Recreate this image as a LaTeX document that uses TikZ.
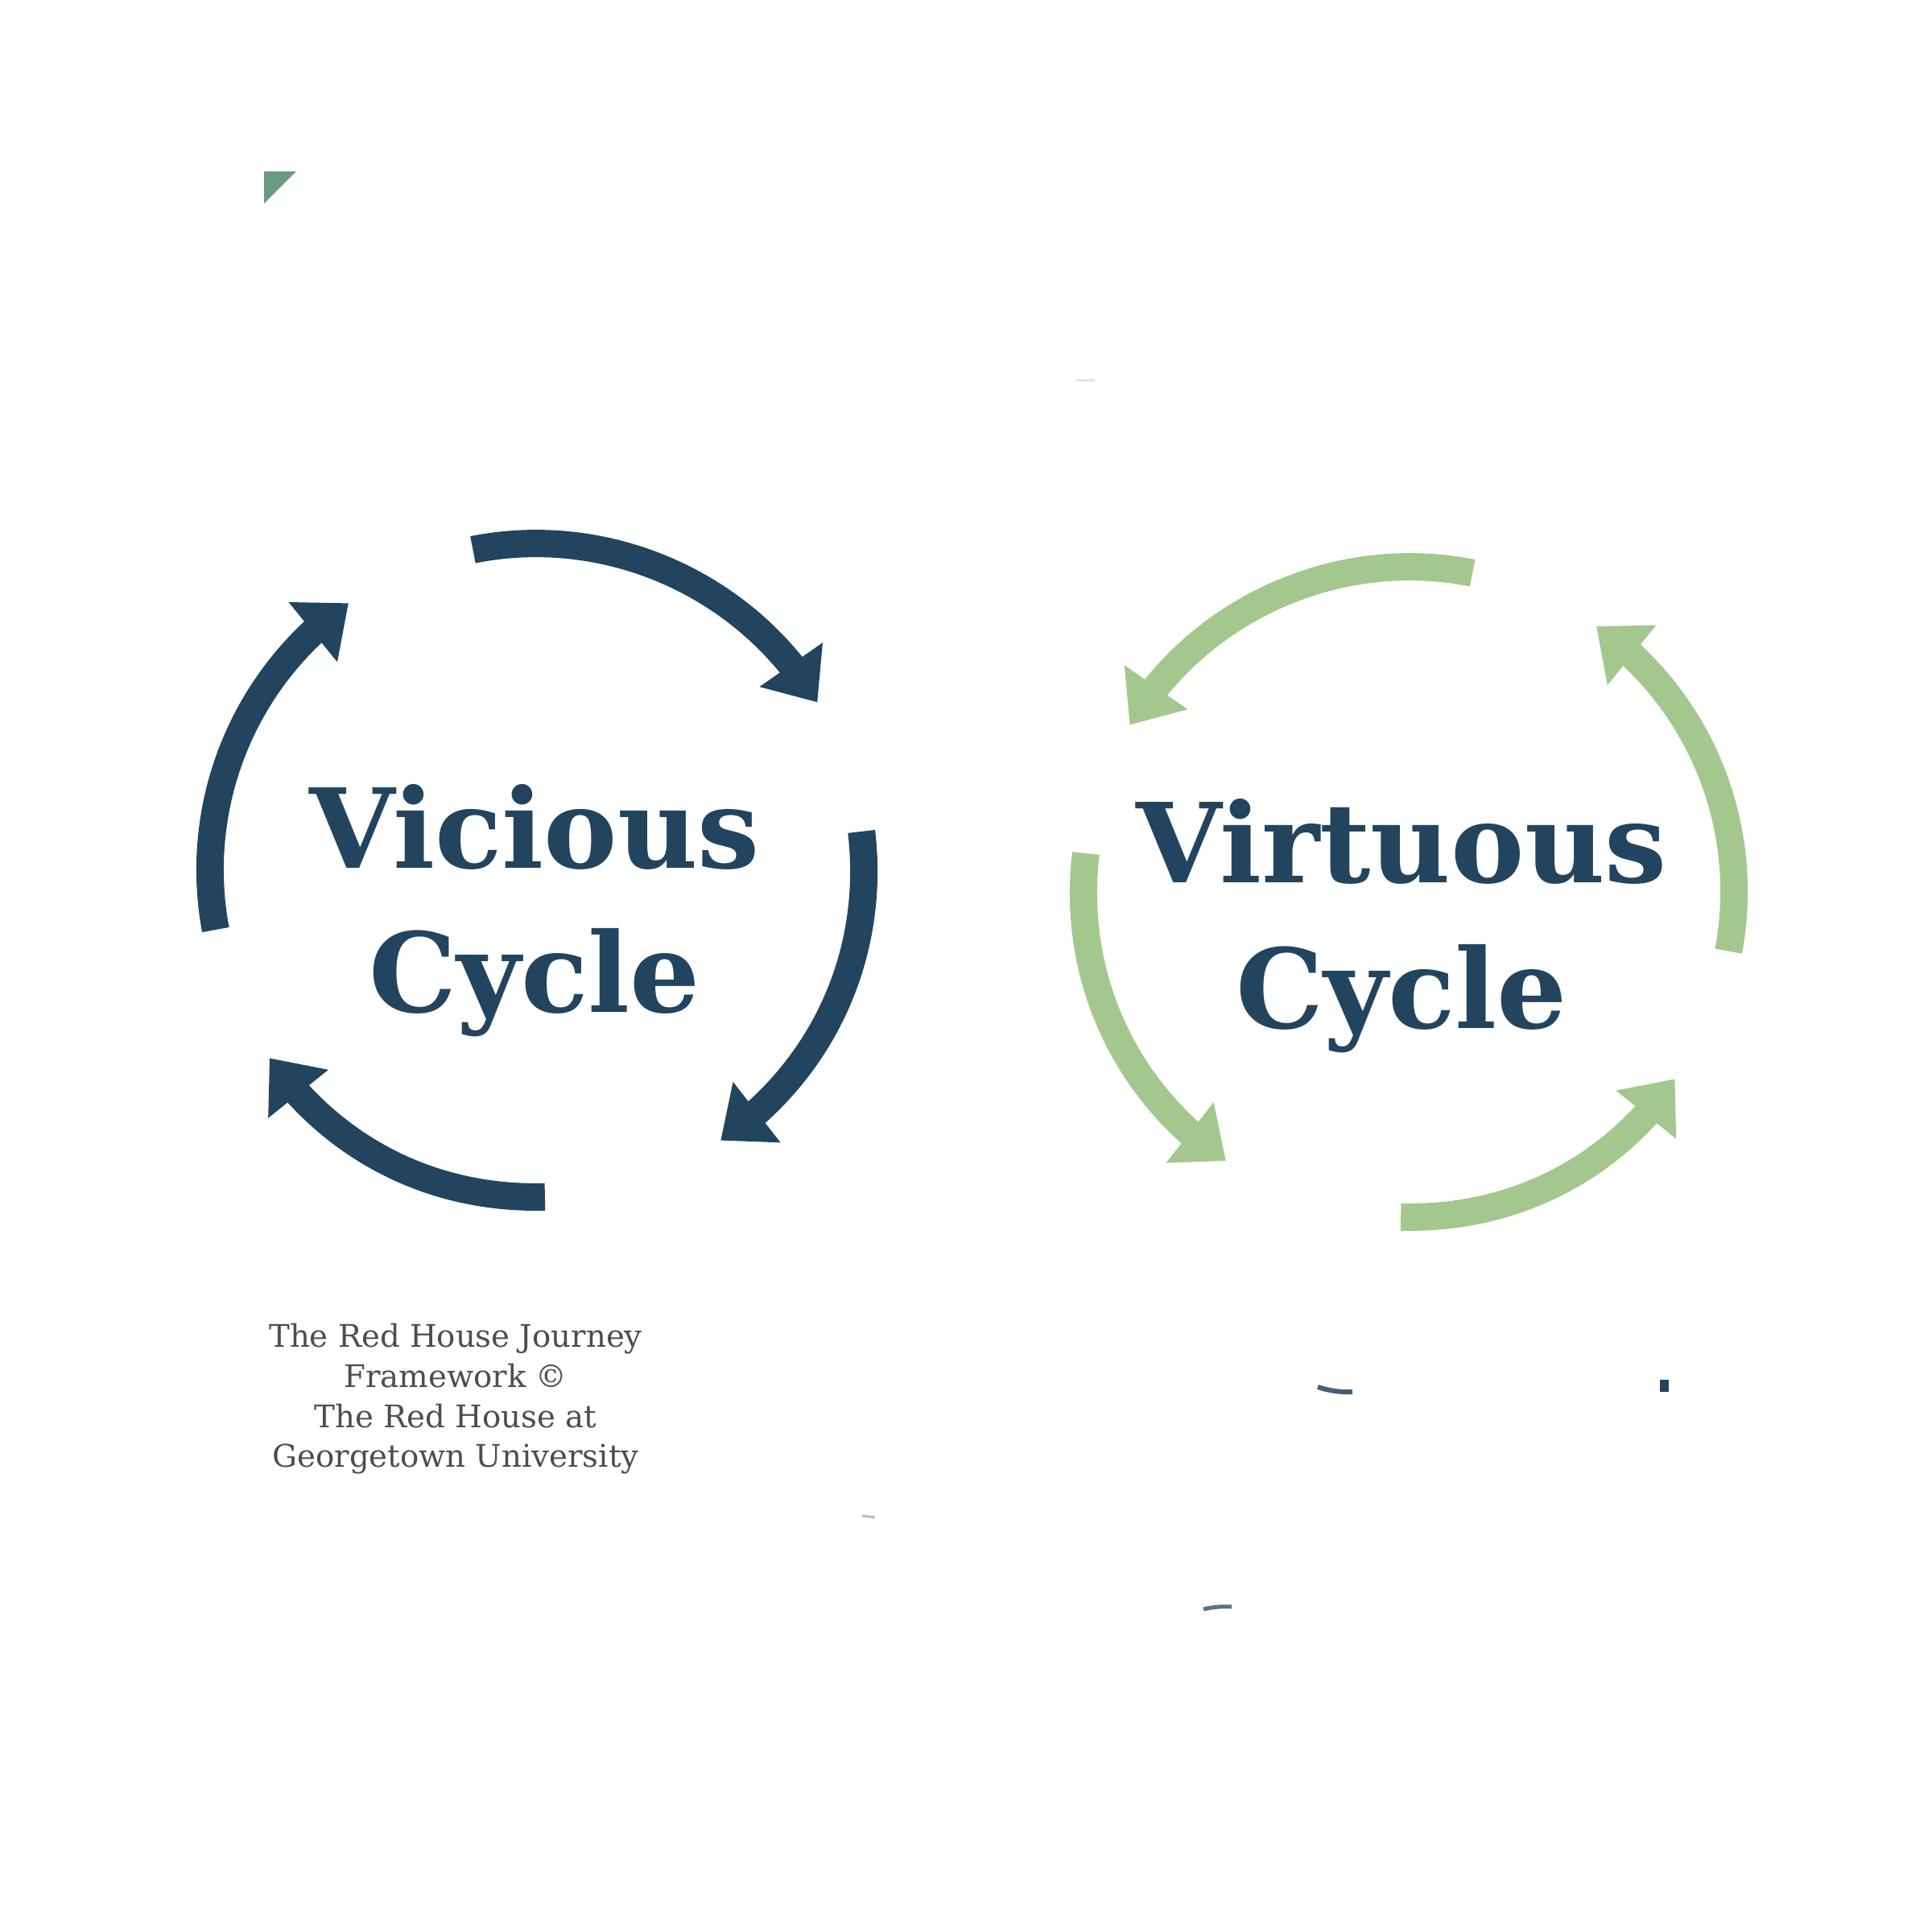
\documentclass[tikz,border=0pt]{standalone}
\usepackage{fontspec}
\setmainfont{DejaVu Serif}
\usetikzlibrary{arrows.meta,bending}
\definecolor{vblue}{HTML}{22445F}
\definecolor{vgreen}{HTML}{A4C78E}
\definecolor{cgray}{HTML}{4D4D4D}
\definecolor{tgreen}{HTML}{6A9A7F}
\begin{document}
\begin{tikzpicture}
[font=\bfseries\fontsize{39}{47}\selectfont, looseness=0.93]
\tikzstyle{vic}=[draw=vblue, line width=0.34cm, -{Triangle[width=0.92cm, length=0.57cm]}]
\tikzstyle{vir}=[draw=vgreen, line width=0.34cm, -{Triangle[width=0.92cm, length=0.57cm]}]
\tikzstyle{title}=[text=vblue, anchor=base, inner sep=0pt]
\tikzstyle{credit}=[text=cgray, font=\fontsize{11}{14.2}\selectfont, align=center, anchor=base, inner sep=0pt]
\useasboundingbox (0,0) rectangle (24,24);
\fill[white] (0,0) rectangle (24,24);

% vicious cycle, clockwise
\coordinate (VC) at (6.67,13.19);
\coordinate (V1a) at ([shift={(101.3:4.06)}]VC);	\coordinate (V1b) at ([shift={(30.9:4.06)}]VC);
\coordinate (V2a) at ([shift={(6.8:4.06)}]VC);		\coordinate (V2b) at ([shift={(-55.8:4.06)}]VC);
\coordinate (V3a) at ([shift={(-88.6:4.06)}]VC);	\coordinate (V3b) at ([shift={(-144.9:4.06)}]VC);
\coordinate (V4a) at ([shift={(190.5:4.06)}]VC);	\coordinate (V4b) at ([shift={(125.2:4.06)}]VC);
\draw[vic] (V1a) to[bend left=35.2] (V1b);
\draw[vic] (V2a) to[bend left=31.3] (V2b);
\draw[vic] (V3a) to[bend left=28.2] (V3b);
\draw[vic] (V4a) to[bend left=32.7] (V4b);
\node[title] (Vw1) at (6.64,13.21) {Vicious};
\node[title] (Vw2) at (6.64,11.42) {Cycle};

% virtuous cycle, counterclockwise
\coordinate (GC) at (17.50,12.92);
\coordinate (G1a) at ([shift={(78.7:4.04)}]GC);		\coordinate (G1b) at ([shift={(149.1:4.04)}]GC);
\coordinate (G2a) at ([shift={(173.2:4.04)}]GC);	\coordinate (G2b) at ([shift={(235.8:4.04)}]GC);
\coordinate (G3a) at ([shift={(268.6:4.04)}]GC);	\coordinate (G3b) at ([shift={(324.9:4.04)}]GC);
\coordinate (G4a) at ([shift={(349.5:4.04)}]GC);	\coordinate (G4b) at ([shift={(54.8:4.04)}]GC);
\draw[vir] (G1a) to[bend right=35.2] (G1b);
\draw[vir] (G2a) to[bend right=31.3] (G2b);
\draw[vir] (G3a) to[bend right=28.2] (G3b);
\draw[vir] (G4a) to[bend right=32.7] (G4b);
\node[title] (Gw1) at (17.41,13.03) {Virtuous};
\node[title] (Gw2) at (17.41,11.22) {Cycle};

\node[credit] (Cr) at (5.66,5.77) {The Red House Journey\\Framework ©\\The Red House at\\Georgetown University};

% stray marks
\fill[tgreen] (3.28,21.87) -- (3.68,21.87) -- (3.28,21.47) -- cycle;
\draw[vblue!15, line width=0.03cm] (13.37,19.27) -- (13.60,19.27);
\draw[vblue!85, line width=0.06cm] (16.37,6.77) to[bend right=10] (16.80,6.71);
\fill[vblue] (20.62,6.86) rectangle (20.73,6.71);
\draw[vblue!35, line width=0.03cm] (10.71,5.17) -- (10.87,5.15);
\draw[vblue!75, line width=0.05cm] (14.95,4.01) to[bend left=8] (15.30,4.04);
\end{tikzpicture}
\end{document}
